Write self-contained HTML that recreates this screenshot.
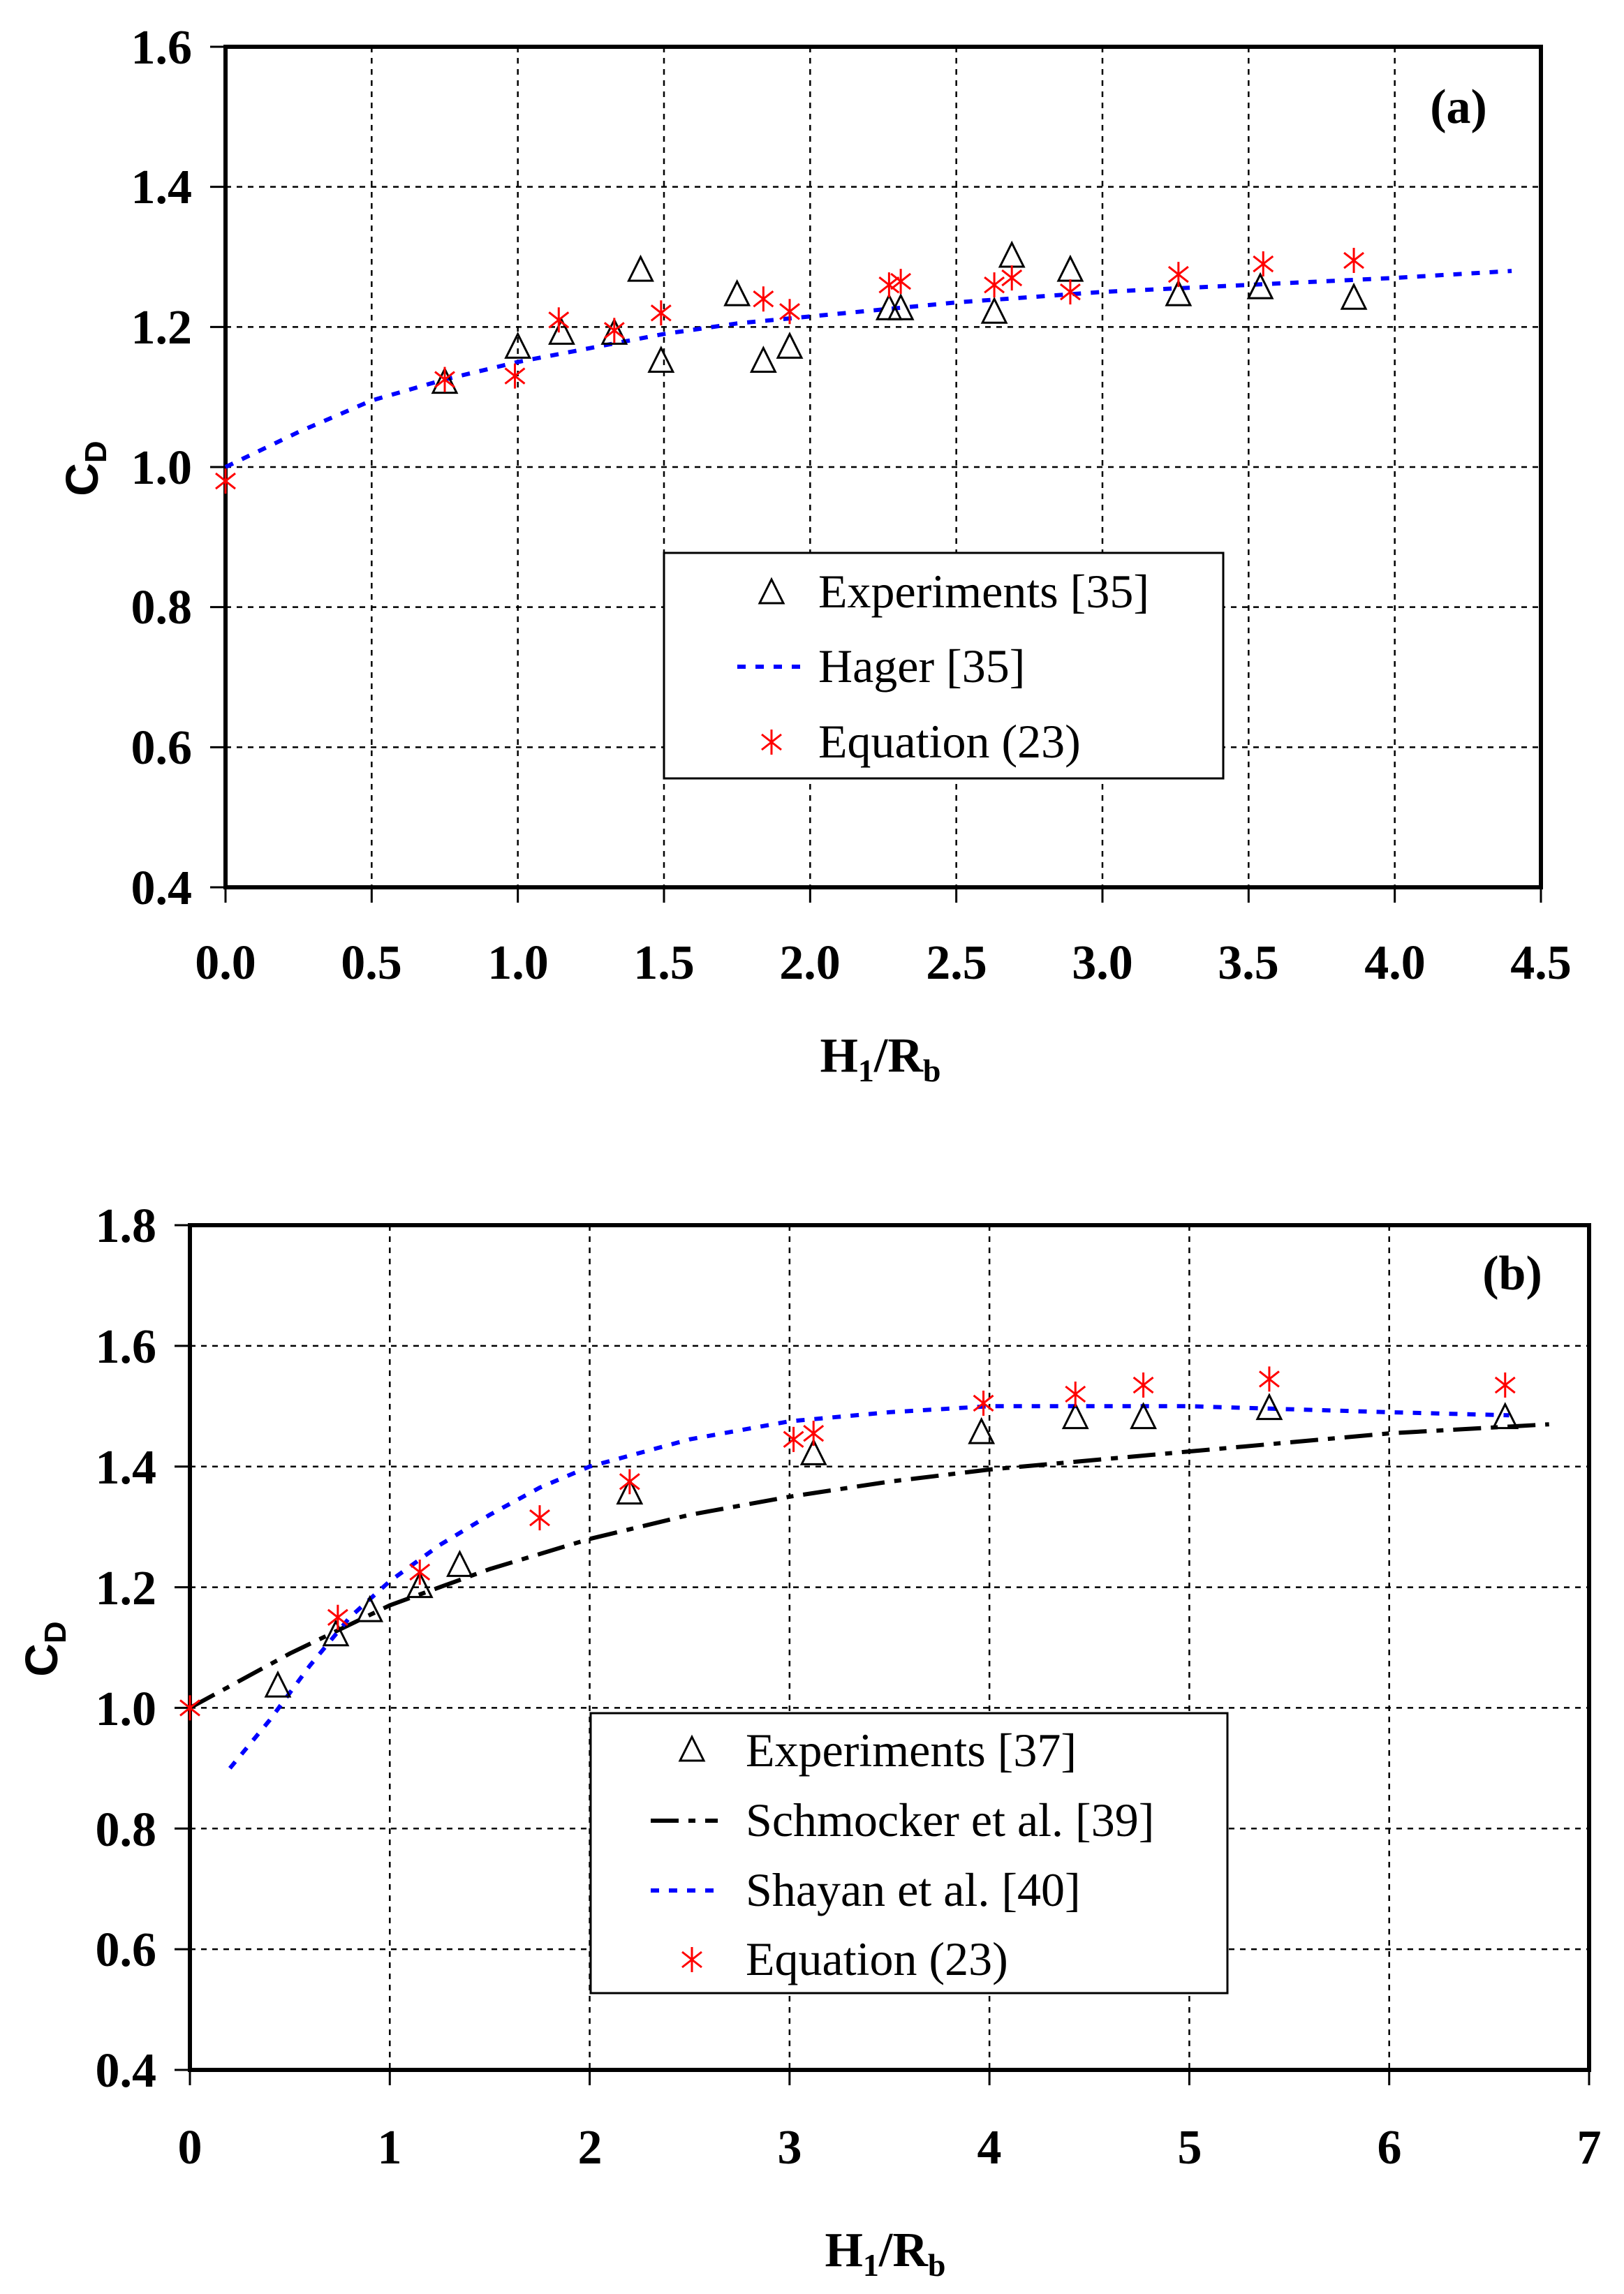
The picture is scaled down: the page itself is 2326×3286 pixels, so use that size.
<!DOCTYPE html>
<html><head><meta charset="utf-8">
<style>
html,body{margin:0;padding:0;background:#fff;}
svg{display:block;}
.tk{font-family:"Liberation Serif",serif;font-weight:bold;font-size:70px;fill:#000;}
.lg{font-family:"Liberation Serif",serif;font-size:68px;fill:#000;}
</style></head>
<body>
<svg id="s" width="2326" height="3286" viewBox="0 0 2326 3286" xmlns="http://www.w3.org/2000/svg">
<rect width="2326" height="3286" fill="#fff"/>
<g id="grid"></g>
<g id="data"></g>
<!-- chart a tick labels -->
<g class="tk" text-anchor="end">
<text x="275" y="91">1.6</text>
<text x="275" y="291">1.4</text>
<text x="275" y="492">1.2</text>
<text x="275" y="693">1.0</text>
<text x="275" y="893">0.8</text>
<text x="275" y="1094">0.6</text>
<text x="275" y="1295">0.4</text>
</g>
<g class="tk" text-anchor="middle">
<text x="323" y="1402">0.0</text>
<text x="532" y="1402">0.5</text>
<text x="742" y="1402">1.0</text>
<text x="951" y="1402">1.5</text>
<text x="1160" y="1402">2.0</text>
<text x="1370" y="1402">2.5</text>
<text x="1579" y="1402">3.0</text>
<text x="1788" y="1402">3.5</text>
<text x="1998" y="1402">4.0</text>
<text x="2207" y="1402">4.5</text>
<text x="1261" y="1535">H<tspan font-size="46" dy="14">1</tspan><tspan dy="-14">/R</tspan><tspan font-size="46" dy="14">b</tspan></text>
<text x="2089" y="176">(a)</text>
</g>
<text transform="translate(140,671) rotate(-90)" text-anchor="middle" font-family="Liberation Sans,sans-serif" font-weight="bold" font-size="66">C<tspan font-size="44" dy="12">D</tspan></text>
<!-- chart b tick labels -->
<g class="tk" text-anchor="end">
<text x="224" y="1779">1.8</text>
<text x="224" y="1952">1.6</text>
<text x="224" y="2125">1.4</text>
<text x="224" y="2298">1.2</text>
<text x="224" y="2471">1.0</text>
<text x="224" y="2644">0.8</text>
<text x="224" y="2816">0.6</text>
<text x="224" y="2989">0.4</text>
</g>
<g class="tk" text-anchor="middle">
<text x="272" y="3099">0</text>
<text x="558" y="3099">1</text>
<text x="845" y="3099">2</text>
<text x="1131" y="3099">3</text>
<text x="1417" y="3099">4</text>
<text x="1704" y="3099">5</text>
<text x="1990" y="3099">6</text>
<text x="2276" y="3099">7</text>
<text x="1268" y="3246">H<tspan font-size="46" dy="14">1</tspan><tspan dy="-14">/R</tspan><tspan font-size="46" dy="14">b</tspan></text>
<text x="2166" y="1847">(b)</text>
</g>
<text transform="translate(82,2362) rotate(-90)" text-anchor="middle" font-family="Liberation Sans,sans-serif" font-weight="bold" font-size="66">C<tspan font-size="44" dy="12">D</tspan></text>
<!-- legend a -->
<rect x="951" y="792" width="801" height="323" fill="#fff" stroke="#000" stroke-width="3"/>
<g class="lg">
<text x="1172" y="870">Experiments [35]</text>
<text x="1172" y="977">Hager [35]</text>
<text x="1172" y="1085">Equation (23)</text>
</g>
<line x1="1056" y1="955" x2="1153" y2="955" stroke="#0000ff" stroke-width="6" stroke-dasharray="12,14"/>
<!-- legend b -->
<rect x="846" y="2454" width="912" height="401" fill="#fff" stroke="#000" stroke-width="3"/>
<g class="lg">
<text x="1068" y="2530">Experiments [37]</text>
<text x="1068" y="2630">Schmocker et al. [39]</text>
<text x="1068" y="2730">Shayan et al. [40]</text>
<text x="1068" y="2829">Equation (23)</text>
</g>
<line x1="932" y1="2608" x2="1028" y2="2608" stroke="#000" stroke-width="6" stroke-dasharray="40,14,10,14"/>
<line x1="932" y1="2708" x2="1028" y2="2708" stroke="#0000ff" stroke-width="6" stroke-dasharray="12,14"/>
<g id="lgm"></g>
</svg>
<script>
var NS="http://www.w3.org/2000/svg";
function el(p,t,a){var e=document.createElementNS(NS,t);for(var k in a)e.setAttribute(k,a[k]);p.appendChild(e);return e;}
var G=document.getElementById('grid'),D=document.getElementById('data'),L=document.getElementById('lgm');
function tri(p,x,y){el(p,'polygon',{points:(x)+','+(y-20)+' '+(x-17)+','+(y+14)+' '+(x+17)+','+(y+14),fill:'none',stroke:'#000','stroke-width':3});}
function star(p,x,y){var r=18;el(p,'path',{d:'M'+x+','+(y-r)+'V'+(y+r)+'M'+(x-14)+','+(y-11)+'L'+(x+14)+','+(y+11)+'M'+(x-14)+','+(y+11)+'L'+(x+14)+','+(y-11),stroke:'#ff0000','stroke-width':3,fill:'none'});}
function chart(c){
 var X=function(v){return c.x0+(v-c.xa)/(c.xb-c.xa)*(c.x1-c.x0)};
 var Y=function(v){return c.y1-(v-c.ya)/(c.yb-c.ya)*(c.y1-c.y0)};
 c.xt.forEach(function(v){var x=X(v);if(v>c.xa&&v<c.xb)el(G,'line',{x1:x,y1:c.y0,x2:x,y2:c.y1,stroke:'#000','stroke-width':2.5,'stroke-dasharray':'8,8'});el(G,'line',{x1:x,y1:c.y1,x2:x,y2:c.y1+22,stroke:'#000','stroke-width':3});});
 c.yt.forEach(function(v){var y=Y(v);if(v>c.ya&&v<c.yb)el(G,'line',{x1:c.x0,y1:y,x2:c.x1,y2:y,stroke:'#000','stroke-width':2.5,'stroke-dasharray':'8,8'});el(G,'line',{x1:c.x0-22,y1:y,x2:c.x0,y2:y,stroke:'#000','stroke-width':3});});
 el(G,'rect',{x:c.x0,y:c.y0,width:c.x1-c.x0,height:c.y1-c.y0,fill:'none',stroke:'#000','stroke-width':6});
 c.lines.forEach(function(l){var d='';l.p.forEach(function(q,i){d+=(i?'L':'M')+X(q[0]).toFixed(1)+','+Y(q[1]).toFixed(1)});el(D,'path',{d:d,fill:'none',stroke:l.c,'stroke-width':6,'stroke-dasharray':l.d});});
 c.tri.forEach(function(q){tri(D,X(q[0]),Y(q[1]))});
 c.star.forEach(function(q){star(D,X(q[0]),Y(q[1]))});
}
function rng(a,b,s){var r=[];for(var v=a;v<=b+1e-9;v+=s)r.push(+v.toFixed(3));return r;}
chart({x0:323,x1:2207,y0:67,y1:1271,xa:0,xb:4.5,ya:0.4,yb:1.6,xt:rng(0,4.5,0.5),yt:rng(0.4,1.6,0.2),
 lines:[{c:'#0000ff',d:'12,14',p:[[0,1.0],[0.25,1.05],[0.5,1.095],[0.75,1.125],[1,1.15],[1.25,1.17],[1.5,1.19],[1.75,1.205],[2,1.215],[2.5,1.235],[3,1.25],[3.5,1.26],[4,1.27],[4.4,1.28]]}],
 tri:[[0.75,1.12],[1.0,1.17],[1.15,1.19],[1.33,1.19],[1.42,1.28],[1.49,1.15],[1.75,1.245],[1.84,1.15],[1.93,1.17],[2.27,1.225],[2.31,1.225],[2.63,1.22],[2.69,1.30],[2.89,1.28],[3.26,1.245],[3.54,1.255],[3.86,1.24]],
 star:[[0,0.98],[0.75,1.125],[0.99,1.13],[1.14,1.21],[1.33,1.195],[1.49,1.22],[1.84,1.24],[1.93,1.222],[2.27,1.26],[2.31,1.265],[2.63,1.26],[2.69,1.27],[2.89,1.25],[3.26,1.275],[3.55,1.29],[3.86,1.295]]});
chart({x0:272,x1:2276,y0:1755,y1:2965,xa:0,xb:7,ya:0.4,yb:1.8,xt:rng(0,7,1),yt:rng(0.4,1.8,0.2),
 lines:[{c:'#000',d:'40,14,10,14',p:[[0,1.0],[0.5,1.09],[1,1.17],[1.5,1.23],[2,1.28],[2.5,1.32],[3,1.35],[3.5,1.375],[4,1.395],[5,1.425],[6,1.455],[6.8,1.47]]},
 {c:'#0000ff',d:'12,14',p:[[0.2,0.9],[0.4,0.98],[0.6,1.07],[0.8,1.15],[1,1.21],[1.25,1.27],[1.5,1.32],[1.75,1.365],[2,1.4],[2.5,1.445],[3,1.475],[3.5,1.49],[4,1.5],[5,1.5],[5.5,1.495],[6,1.49],[6.6,1.485]]}],
 tri:[[0.44,1.035],[0.73,1.12],[0.9,1.16],[1.15,1.2],[1.35,1.235],[2.2,1.355],[3.12,1.42],[3.96,1.455],[4.43,1.48],[4.77,1.48],[5.4,1.495],[6.58,1.48]],
 star:[[0,1.0],[0.74,1.15],[1.15,1.225],[1.75,1.315],[2.2,1.375],[3.02,1.445],[3.12,1.455],[3.97,1.505],[4.43,1.52],[4.77,1.535],[5.4,1.545],[6.58,1.535]]});
tri(L,1105,850);star(L,1105,1063);tri(L,991,2508);star(L,991,2807);
</script>
</body></html>
